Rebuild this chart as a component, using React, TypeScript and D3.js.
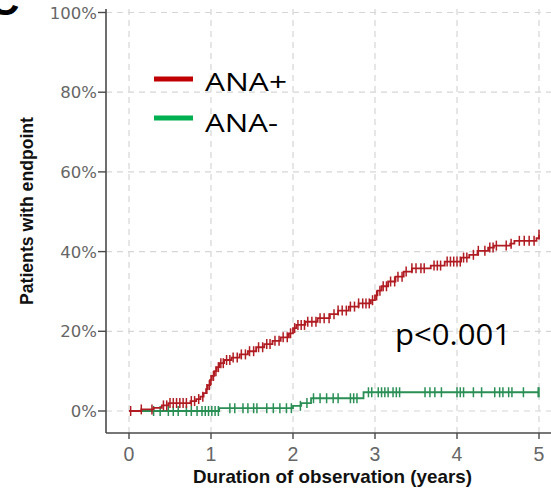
import React from "react";
import * as d3 from "d3";

// cumulative incidence steps [years, % with endpoint]
const anaPosSteps: [number, number][] = [
  [0, 0], [0.15, 0.4], [0.3, 0.8], [0.4, 1.4], [0.48, 2.0], [0.75, 2.5], [0.82, 3.0],
  [0.87, 3.6], [0.91, 4.5], [0.94, 5.5], [0.96, 6.5], [0.99, 7.8], [1.01, 8.8],
  [1.04, 10.0], [1.07, 11.0], [1.1, 12.0], [1.16, 12.8], [1.25, 13.4], [1.35, 14.2],
  [1.45, 15.0], [1.55, 16.0], [1.65, 16.8], [1.75, 17.6], [1.85, 18.5], [1.95, 19.5],
  [2.0, 20.8], [2.04, 21.6], [2.15, 22.4], [2.3, 23.3], [2.45, 24.3], [2.55, 25.2],
  [2.68, 26.2], [2.8, 27.0], [2.95, 27.8], [3.0, 29.0], [3.03, 30.2], [3.08, 31.3],
  [3.16, 32.5], [3.25, 33.7], [3.35, 35.0], [3.45, 35.8], [3.68, 36.5], [3.85, 37.5],
  [4.05, 38.5], [4.15, 39.2], [4.25, 40.2], [4.38, 41.0], [4.45, 41.5], [4.65, 42.0],
  [4.7, 42.7], [4.97, 43.4], [5.0, 44.2],
];

const anaNegSteps: [number, number][] = [
  [0, 0], [1.1, 0.7], [2.0, 1.3], [2.1, 2.0], [2.22, 3.2], [2.86, 4.7], [5.0, 4.7],
];

// censored observations (years)
const anaPosCensored = [
  0.02, 0.15, 0.28, 0.42, 0.46, 0.5, 0.54, 0.58, 0.62, 0.66, 0.7, 0.76, 0.8, 0.85, 0.9,
  0.95, 0.98, 1.0, 1.03, 1.06, 1.09, 1.12, 1.15, 1.19, 1.23, 1.27, 1.32, 1.37, 1.42,
  1.47, 1.52, 1.58, 1.63, 1.68, 1.72, 1.78, 1.83, 1.88, 1.93, 1.97, 2.02, 2.06, 2.1,
  2.14, 2.18, 2.23, 2.28, 2.33, 2.38, 2.44, 2.5, 2.55, 2.6, 2.65, 2.7, 2.75, 2.8, 2.85,
  2.89, 2.93, 2.97, 3.02, 3.06, 3.1, 3.14, 3.19, 3.24, 3.28, 3.33, 3.38, 3.45, 3.5,
  3.56, 3.6, 3.72, 3.76, 3.8, 3.88, 3.92, 3.96, 4.0, 4.04, 4.08, 4.12, 4.2, 4.26, 4.34,
  4.4, 4.44, 4.48, 4.6, 4.66, 4.76, 4.82, 4.88, 4.94, 5.0,
];

const anaNegCensored = [
  0.3, 0.38, 0.48, 0.54, 0.6, 0.7, 0.76, 0.83, 0.89, 0.93, 0.97, 1.01, 1.05, 1.09, 1.23,
  1.29, 1.39, 1.45, 1.52, 1.56, 1.68, 1.76, 1.84, 1.92, 1.98, 2.09, 2.17, 2.25, 2.33,
  2.41, 2.49, 2.55, 2.7, 2.74, 2.78, 2.92, 2.96, 3.04, 3.08, 3.12, 3.16, 3.22, 3.26,
  3.3, 3.61, 3.67, 3.73, 3.81, 4.0, 4.04, 4.08, 4.2, 4.3, 4.46, 4.52, 4.56, 4.63, 4.67,
  4.81, 4.99, 5.0,
];

const xTicks = [0, 1, 2, 3, 4, 5];
const yTicks = [0, 20, 40, 60, 80, 100];

const series = [
  { label: "ANA-", steps: anaNegSteps, censored: anaNegCensored, color: "#2a8f55", legend: "#00B050" },
  { label: "ANA+", steps: anaPosSteps, censored: anaPosCensored, color: "#b01c22", legend: "#C00000" },
];

const W = 551;
const H = 500;

export default function App() {
  const x = d3.scaleLinear().domain([0, 5]).range([129, 539]);
  const y = d3.scaleLinear().domain([0, 100]).range([411, 12.5]);
  const left = 106;
  const right = W;
  const bottom = 433;
  const top = 9;

  const line = d3
    .line<[number, number]>()
    .x((d) => x(d[0]))
    .y((d) => y(d[1]))
    .curve(d3.curveStepAfter);

  const valueAt = (steps: [number, number][], t: number) => {
    const i = d3.bisector((d: [number, number]) => d[0]).right(steps, t) - 1;
    return steps[Math.max(0, i)][1];
  };

  const tickFont = "'DejaVu Sans', sans-serif";
  const gridColor = "#d6d6d6";
  const axisColor = "#4a4a4a";

  return (
    <svg
      width={W}
      height={H}
      style={{ position: "absolute", left: 0, top: 0, background: "#fff" }}
    >
      <rect width={W} height={H} fill="#fff" />

      {/* panel letter, cropped like the source figure */}
      <text x={-11} y={15} fontFamily="Arial, 'Liberation Sans'" fontWeight="bold" fontSize={42} fill="#000">
        C
      </text>

      {/* grid */}
      {yTicks.map((v) => (
        <line key={"gy" + v} x1={left} x2={right} y1={y(v)} y2={y(v)} stroke={gridColor} strokeWidth={1.2} strokeDasharray="6,5" />
      ))}
      {xTicks.map((v) => (
        <line key={"gx" + v} x1={x(v)} x2={x(v)} y1={top} y2={bottom} stroke={gridColor} strokeWidth={1.2} strokeDasharray="6,5" />
      ))}

      {/* curves */}
      {series.map((s) => (
        <g key={s.label}>
          <path d={line(s.steps) ?? ""} fill="none" stroke={s.color} strokeWidth={1.8} />
          {s.censored.map((t, i) => (
            <line
              key={i}
              x1={x(t)}
              x2={x(t)}
              y1={y(valueAt(s.steps, t)) - 5}
              y2={y(valueAt(s.steps, t)) + 5}
              stroke={s.color}
              strokeWidth={1.5}
            />
          ))}
        </g>
      ))}

      {/* axes */}
      <line x1={left} x2={left} y1={top} y2={bottom} stroke={axisColor} strokeWidth={1.6} />
      <line x1={left} x2={right} y1={bottom} y2={bottom} stroke={axisColor} strokeWidth={1.6} />
      {yTicks.map((v) => (
        <g key={"ty" + v}>
          <line x1={left - 8} x2={left} y1={y(v)} y2={y(v)} stroke={axisColor} strokeWidth={1.4} />
          <text x={left - 9} y={y(v) + 6} textAnchor="end" fontFamily={tickFont} fontSize={16.5} fill="#666">
            {v + "%"}
          </text>
        </g>
      ))}
      {xTicks.map((v) => (
        <g key={"tx" + v}>
          <line x1={x(v)} x2={x(v)} y1={bottom} y2={bottom + 6} stroke={axisColor} strokeWidth={1.4} />
          <text x={x(v)} y={461} textAnchor="middle" fontFamily="Arial, 'Liberation Sans'" fontSize={19.5} fill="#666">
            {v}
          </text>
        </g>
      ))}

      {/* axis titles */}
      <text
        x={332.5}
        y={483}
        textAnchor="middle"
        fontFamily="Arial, 'Liberation Sans'"
        fontWeight="bold"
        fontSize={18.5}
        textLength={279}
        lengthAdjust="spacingAndGlyphs"
        fill="#111"
      >
        Duration of observation (years)
      </text>
      <text
        transform="translate(33,211) rotate(-90)"
        textAnchor="middle"
        fontFamily="Arial, 'Liberation Sans'"
        fontWeight="bold"
        fontSize={17.5}
        textLength={188}
        lengthAdjust="spacingAndGlyphs"
        fill="#111"
      >
        Patients with endpoint
      </text>

      {/* legend */}
      {[series[1], series[0]].map((s, i) => (
        <g key={"lg" + s.label}>
          <line x1={154} x2={193} y1={79 + i * 39} y2={79 + i * 39} stroke={s.legend} strokeWidth={5} />
          <text
            x={205}
            y={91 + i * 41}
            fontFamily="'Open Sans', sans-serif"
            fontSize={25}
            textLength={i === 0 ? 82 : 73}
            lengthAdjust="spacingAndGlyphs"
            fill="#000"
          >
            {s.label}
          </text>
        </g>
      ))}

      <text
        x={395}
        y={345}
        fontFamily="'Open Sans', sans-serif"
        fontSize={28.5}
        textLength={116}
        lengthAdjust="spacingAndGlyphs"
        fill="#000"
      >
        p&lt;0.001
      </text>
    </svg>
  );
}
